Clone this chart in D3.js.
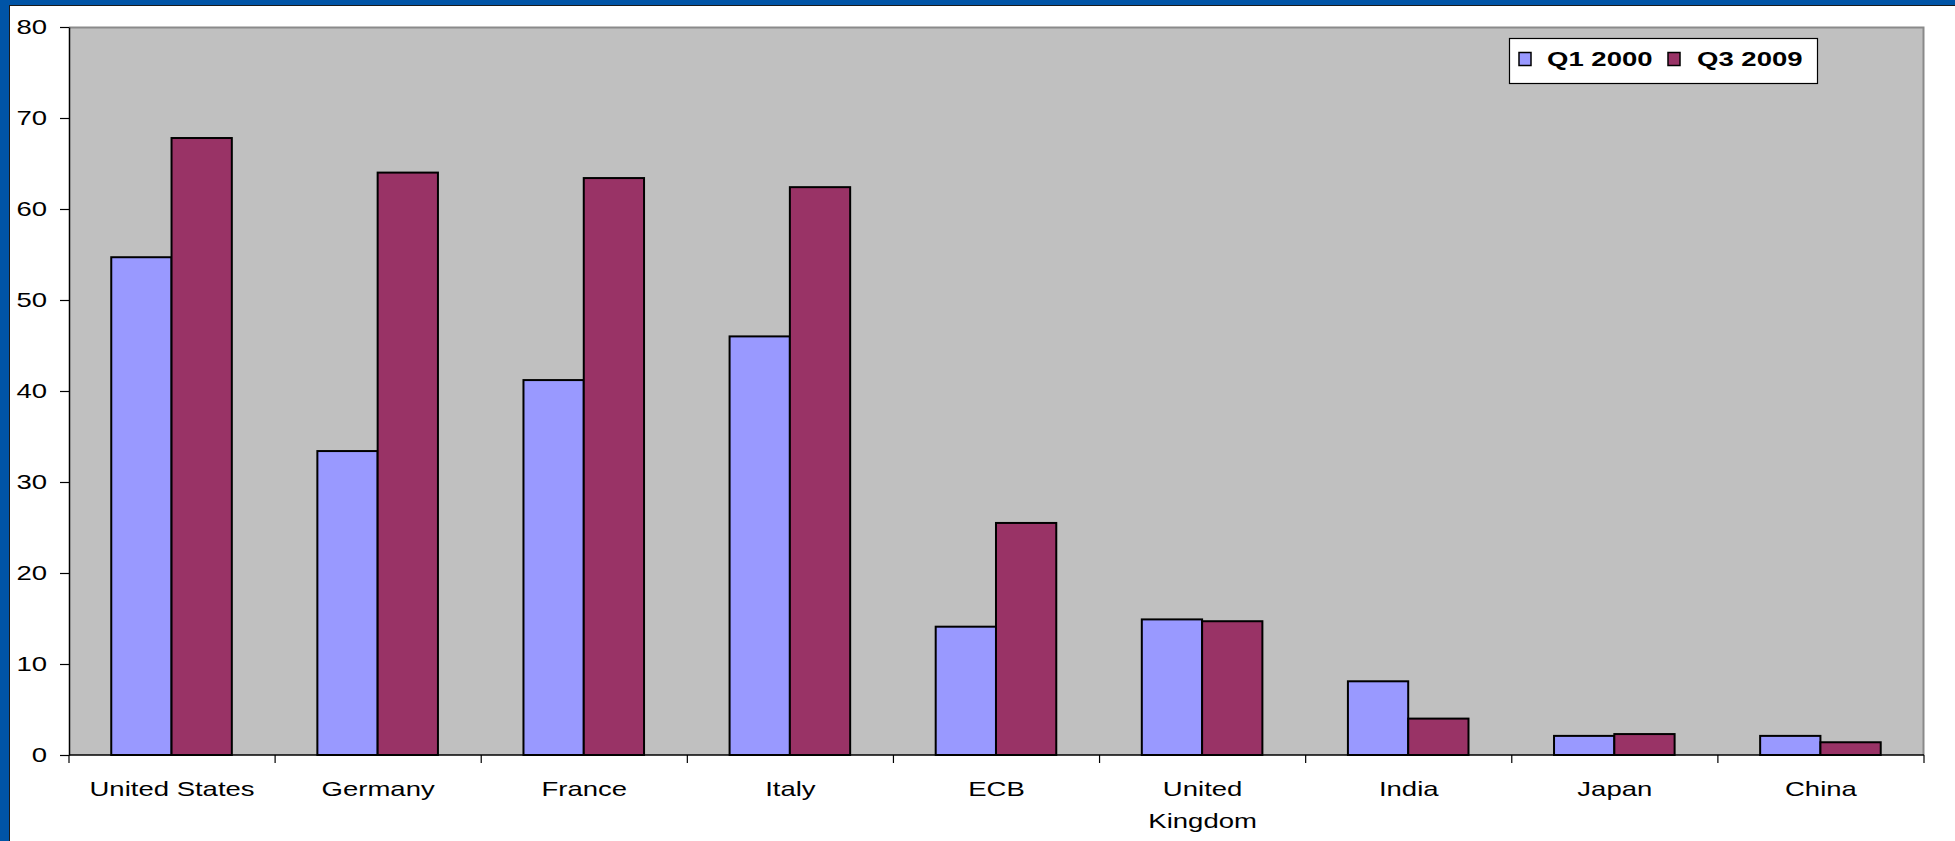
<!DOCTYPE html>
<html>
<head>
<meta charset="utf-8">
<script src="https://cdn.jsdelivr.net/npm/d3@7"></script>
<style>
  html, body { margin: 0; padding: 0; background: #fff; }
  svg { display: block; }
  text { font-family: "Liberation Sans", Arial, sans-serif; fill: #000; }
</style>
</head>
<body>
<svg id="chart" width="1955" height="841"></svg>
<script>
const categories = ["United States", "Germany", "France", "Italy", "ECB", "United Kingdom", "India", "Japan", "China"];
const categoryLines = [["United States"], ["Germany"], ["France"], ["Italy"], ["ECB"], ["United", "Kingdom"], ["India"], ["Japan"], ["China"]];
const seriesNames = ["Q1 2000", "Q3 2009"];
const q1_2000 = [54.7, 33.4, 41.2, 46.0, 14.1, 14.9, 8.1, 2.1, 2.1];
const q3_2009 = [67.8, 64.0, 63.4, 62.4, 25.5, 14.7, 4.0, 2.3, 1.4];
const yTicks = [0, 10, 20, 30, 40, 50, 60, 70, 80];
const colors = ["#9999FF", "#993366"];

const SX = 1.31; // horizontal text stretch seen in the reference
const W = 1955, H = 841;
const plot = { left: 69, top: 27, right: 1924, bottom: 755 };

const svg = d3.select("#chart");

// blue frame (left and top)
svg.append("rect").attr("x", 0).attr("y", 0).attr("width", W).attr("height", 5).attr("fill", "#0054A6");
svg.append("rect").attr("x", 0).attr("y", 0).attr("width", 9).attr("height", H).attr("fill", "#0054A6");
svg.append("line").attr("x1", 9.5).attr("x2", 9.5).attr("y1", 5).attr("y2", H).attr("stroke", "#1a1a1a").attr("stroke-width", 1);
svg.append("line").attr("x1", 9).attr("x2", W).attr("y1", 5.5).attr("y2", 5.5).attr("stroke", "#1a1a1a").attr("stroke-width", 1);

const x0 = d3.scaleBand().domain(categories).range([plot.left, plot.right]).padding(0);
const bw = x0.bandwidth();
const x1 = d3.scaleBand().domain(seriesNames).range([bw * 0.205, bw * 0.79]).padding(0);
const y = d3.scaleLinear().domain([0, 80]).range([plot.bottom, plot.top]);

// plot area
svg.append("rect")
  .attr("x", plot.left).attr("y", plot.top)
  .attr("width", plot.right - plot.left).attr("height", plot.bottom - plot.top)
  .attr("fill", "#C0C0C0");
svg.append("path")
  .attr("d", `M${plot.left},${plot.top + 0.5}H${plot.right - 0.5}V${plot.bottom}`)
  .attr("fill", "none").attr("stroke", "#8a8a8a").attr("stroke-width", 2);

// bars
const series = [q1_2000, q3_2009];
const groups = svg.append("g").selectAll("g")
  .data(categories)
  .join("g")
  .attr("transform", d => `translate(${x0(d)},0)`);
groups.selectAll("rect")
  .data((d, i) => seriesNames.map((s, k) => ({ s, v: series[k][i], k })))
  .join("rect")
  .attr("x", d => x1(d.s))
  .attr("width", x1.bandwidth())
  .attr("y", d => y(d.v))
  .attr("height", d => y(0) - y(d.v))
  .attr("fill", d => colors[d.k])
  .attr("stroke", "#000")
  .attr("stroke-width", 2);

// y axis
const yAxis = svg.append("g")
  .attr("transform", `translate(${plot.left},0)`)
  .call(d3.axisLeft(y).tickValues(yTicks).tickSize(9).tickPadding(13).tickSizeOuter(0));
yAxis.select(".domain").attr("stroke", "#000").attr("stroke-width", 1.5);
yAxis.selectAll(".tick line").attr("stroke", "#000").attr("stroke-width", 1.2);
yAxis.selectAll(".tick text")
  .attr("font-size", 21)
  .attr("font-family", "Liberation Sans, Arial, sans-serif")
  .each(function () {
    const t = d3.select(this);
    const xx = +t.attr("x");
    t.attr("x", 0).attr("transform", `translate(${xx},0) scale(${SX},1)`);
  });

// x axis: baseline and category boundary ticks
const boundaries = categories.map(c => x0(c)).concat([plot.right]);
svg.append("line")
  .attr("x1", plot.left).attr("x2", plot.right)
  .attr("y1", y(0)).attr("y2", y(0))
  .attr("stroke", "#000").attr("stroke-width", 1.5);
svg.append("g").selectAll("line")
  .data(boundaries)
  .join("line")
  .attr("x1", d => d).attr("x2", d => d)
  .attr("y1", y(0)).attr("y2", y(0) + 8)
  .attr("stroke", "#000").attr("stroke-width", 1.2);

// x labels
const xl = svg.append("g").selectAll("text")
  .data(categories)
  .join("text")
  .attr("transform", d => `translate(${x0(d) + bw / 2},796) scale(${SX},1)`)
  .attr("text-anchor", "middle")
  .attr("font-size", 21);
xl.each(function (d, i) {
  const lines = categoryLines[i];
  d3.select(this).selectAll("tspan")
    .data(lines)
    .join("tspan")
    .attr("x", 0)
    .attr("dy", (l, j) => j === 0 ? 0 : 32)
    .text(l => l);
});

// legend
const lg = svg.append("g");
lg.append("rect")
  .attr("x", 1509.5).attr("y", 38.5).attr("width", 308).attr("height", 45)
  .attr("fill", "#fff").attr("stroke", "#000").attr("stroke-width", 1.2);
const legendItems = [{ sx: 1519, tx: 1547 }, { sx: 1668, tx: 1697 }];
seriesNames.forEach((s, k) => {
  lg.append("rect")
    .attr("x", legendItems[k].sx).attr("y", 52.5).attr("width", 12).attr("height", 13)
    .attr("fill", colors[k]).attr("stroke", "#000").attr("stroke-width", 1.5);
  lg.append("text")
    .attr("transform", `translate(${legendItems[k].tx},66) scale(${SX},1)`)
    .attr("font-size", 21).attr("font-weight", "bold")
    .text(s);
});
</script>
</body>
</html>
